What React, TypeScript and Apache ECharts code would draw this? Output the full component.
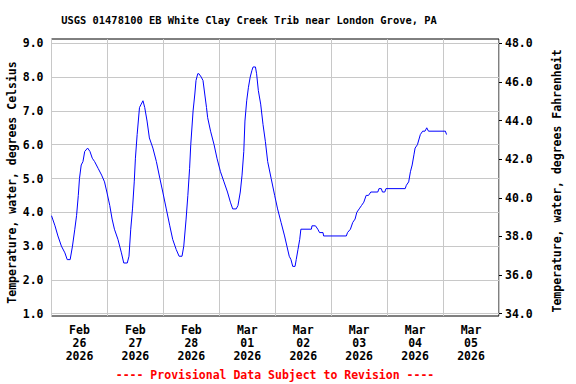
import React, { useEffect, useRef } from "react";
import * as echarts from "echarts";

const TITLE = "USGS 01478100 EB White Clay Creek Trib near London Grove, PA";
const PROVISIONAL = "---- Provisional Data Subject to Revision ----";
const LEFT_NAME = "Temperature, water, degrees Celsius";
const RIGHT_NAME = "Temperature, water, degrees Fahrenheit";

const dayMonths = ["Feb", "Feb", "Feb", "Mar", "Mar", "Mar", "Mar", "Mar"];
const dayNums = ["26", "27", "28", "01", "02", "03", "04", "05"];
const dayYears = ["2026", "2026", "2026", "2026", "2026", "2026", "2026", "2026"];

// hours since Feb 26 2026 00:00
const hoursSinceStart = [
  0, 0.5, 1.5, 2.75, 4.25, 5.75, 6.75, 8, 9, 10, 10.75, 11.5, 12, 12.75, 13.5, 14.25, 15.5, 16.5,
  17.5, 18.5, 20, 21.5, 22.75, 23.75, 25, 26, 27, 28.5, 30, 31, 32.5, 33.25, 34, 34.75, 35.5, 36,
  36.75, 37.75, 38.5, 39.25, 40, 41, 42, 43.5, 45, 46.5, 47.75, 49.25, 50.75, 52, 53.5, 54.75, 56,
  56.75, 57.75, 58.5, 59.25, 59.75, 60.75, 61.5, 62, 62.75, 63.25, 64.25, 65, 65.75, 66.5, 67,
  68.25, 69.75, 71, 72.5, 74, 75.5, 76.75, 77.75, 79.25, 80, 81, 81.75, 82.5, 83, 83.75, 84.5,
  85.25, 86, 86.5, 87.5, 88, 88.75, 89.75, 90.75, 91.75, 92.75, 94.25, 95.75, 97, 98.5, 100, 101,
  102, 102.75, 103.5, 104.5, 105, 105.75, 106.5, 107, 111.5, 111.75, 113.25, 114.25, 115, 116.5,
  116.75, 126.5, 127, 128.25, 129.25, 130.25, 131, 132, 133, 134, 135, 136, 137, 140, 140.5, 141.5,
  142, 143, 143.5, 151.75, 152.25, 153.25, 154, 154.75, 155.5, 156, 157, 158.25, 159.25, 160.25,
  161, 161.75, 169, 169.5,
];

const tempC = [
  3.9, 3.8, 3.6, 3.3, 3.0, 2.8, 2.6, 2.6, 3.0, 3.5, 3.9, 4.5, 5.0, 5.4, 5.5, 5.8, 5.9, 5.8,
  5.6, 5.5, 5.3, 5.1, 4.9, 4.6, 4.2, 3.8, 3.5, 3.2, 2.8, 2.5, 2.5, 2.7, 3.5, 4.1, 4.9, 5.6,
  6.3, 7.1, 7.2, 7.3, 7.1, 6.7, 6.2, 5.9, 5.5, 5.0, 4.6, 4.1, 3.6, 3.2, 2.9, 2.7, 2.7,
  3.0, 3.8, 4.5, 5.3, 6.0, 7.0, 7.5, 7.9, 8.1, 8.1, 8.0, 7.9, 7.5, 7.1, 6.8,
  6.4, 6.0, 5.6, 5.2, 4.9, 4.6, 4.3, 4.1, 4.1, 4.2, 4.6, 5.1, 5.8, 6.7, 7.3, 7.7,
  8.0, 8.2, 8.3, 8.3, 8.1, 7.6, 7.2, 6.6, 6.1, 5.5, 5.0, 4.5, 4.1, 3.7, 3.3, 3.0,
  2.7, 2.6, 2.4, 2.4, 2.6, 2.9, 3.2, 3.5, 3.5, 3.6, 3.6, 3.5, 3.4, 3.4,
  3.3, 3.3, 3.4, 3.5, 3.7, 3.8, 4.0, 4.1, 4.2, 4.3, 4.5, 4.5, 4.6, 4.6, 4.7, 4.7,
  4.6, 4.6, 4.7, 4.7, 4.8, 4.9, 5.2, 5.4, 5.7, 5.9, 6.0, 6.3, 6.4, 6.4,
  6.5, 6.4, 6.4, 6.3,
];

const celsiusMin = 1;
const celsiusMax = 9;
const celsiusStep = 1;
const fahrenheitMin = 34;
const fahrenheitMax = 48;
const fahrenheitStep = 2;
const totalHours = 192;
const hoursPerDay = 24;

const FONT = '"DejaVu Sans Mono", "Liberation Mono", monospace';

export default function App() {
  const ref = useRef<HTMLDivElement>(null);

  useEffect(() => {
    if (!ref.current) return;
    const chart = echarts.init(ref.current, null, { renderer: "svg" });
    const dayLabels = dayMonths.map((m, i) => `${m}\n${dayNums[i]}\n${dayYears[i]}`);
    const data = hoursSinceStart.map((h, i) => [h, tempC[i]]);

    const labelStyle = {
      fontFamily: FONT,
      fontSize: 11.5,
      fontWeight: "bold" as const,
      color: "#000",
    };

    chart.setOption({
      animation: false,
      backgroundColor: "#fff",
      grid: [
        {
          left: 51.5,
          right: 77,
          top: 39,
          bottom: 68,
          show: true,
          borderColor: "#000",
          borderWidth: 1,
          backgroundColor: "transparent",
        },
        { left: 51.5, right: 77, top: 43.3, bottom: 70.3 },
      ],
      xAxis: [
        {
          gridIndex: 0,
          type: "value",
          position: "top",
          min: 0,
          max: totalHours,
          interval: hoursPerDay,
          axisLine: { show: false },
          axisTick: { show: false },
          axisLabel: { show: false },
          splitLine: { show: true, lineStyle: { color: "#c8c8c8", width: 1 } },
        },
        {
          gridIndex: 0,
          type: "category",
          position: "bottom",
          data: dayLabels,
          boundaryGap: true,
          axisLine: { show: false },
          axisTick: { show: false },
          splitLine: { show: false },
          axisLabel: { ...labelStyle, interval: 0, lineHeight: 13, margin: 7 },
        },
        {
          gridIndex: 1,
          type: "value",
          min: 0,
          max: totalHours,
          show: false,
        },
      ],
      yAxis: [
        { gridIndex: 0, type: "value", min: 0, max: 1, show: false },
        {
          gridIndex: 1,
          type: "value",
          position: "left",
          min: celsiusMin,
          max: celsiusMax,
          interval: celsiusStep,
          axisLine: { show: false },
          axisTick: { show: false },
          axisLabel: { ...labelStyle, margin: 8, formatter: (v: number) => v.toFixed(1) },
          splitLine: { show: true, lineStyle: { color: "#c8c8c8", width: 1 } },
        },
        {
          gridIndex: 1,
          type: "value",
          position: "right",
          min: fahrenheitMin,
          max: fahrenheitMax,
          interval: fahrenheitStep,
          axisLine: { show: false },
          axisTick: { show: true, inside: false, length: 3, lineStyle: { color: "#000" } },
          axisLabel: { ...labelStyle, margin: 6, formatter: (v: number) => v.toFixed(1) },
          splitLine: { show: false },
        },
      ],
      series: [
        {
          type: "line",
          xAxisIndex: 2,
          yAxisIndex: 1,
          data,
          showSymbol: false,
          symbol: "none",
          lineStyle: { color: "#0000ff", width: 1 },
          z: 5,
        },
      ],
      graphic: [
        {
          type: "text",
          x: 249,
          y: 20,
          style: {
            text: TITLE,
            align: "center",
            verticalAlign: "middle",
            font: `bold 10.4px ${FONT}`,
            fill: "#000",
          },
        },
        {
          type: "text",
          x: 275,
          y: 374.5,
          style: {
            text: PROVISIONAL,
            align: "center",
            verticalAlign: "middle",
            font: `bold 11.5px ${FONT}`,
            fill: "#ff0000",
          },
        },
        {
          type: "text",
          x: 12,
          y: 182.5,
          rotation: Math.PI / 2,
          style: {
            text: LEFT_NAME,
            align: "center",
            verticalAlign: "middle",
            font: `bold 11.5px ${FONT}`,
            fill: "#000",
          },
        },
        {
          type: "text",
          x: 557,
          y: 181,
          rotation: Math.PI / 2,
          style: {
            text: RIGHT_NAME,
            align: "center",
            verticalAlign: "middle",
            font: `bold 11.5px ${FONT}`,
            fill: "#000",
          },
        },
      ],
    });

    return () => chart.dispose();
  }, []);

  return (
    <div
      ref={ref}
      style={{ position: "absolute", left: 0, top: 0, width: 576, height: 384 }}
    />
  );
}
